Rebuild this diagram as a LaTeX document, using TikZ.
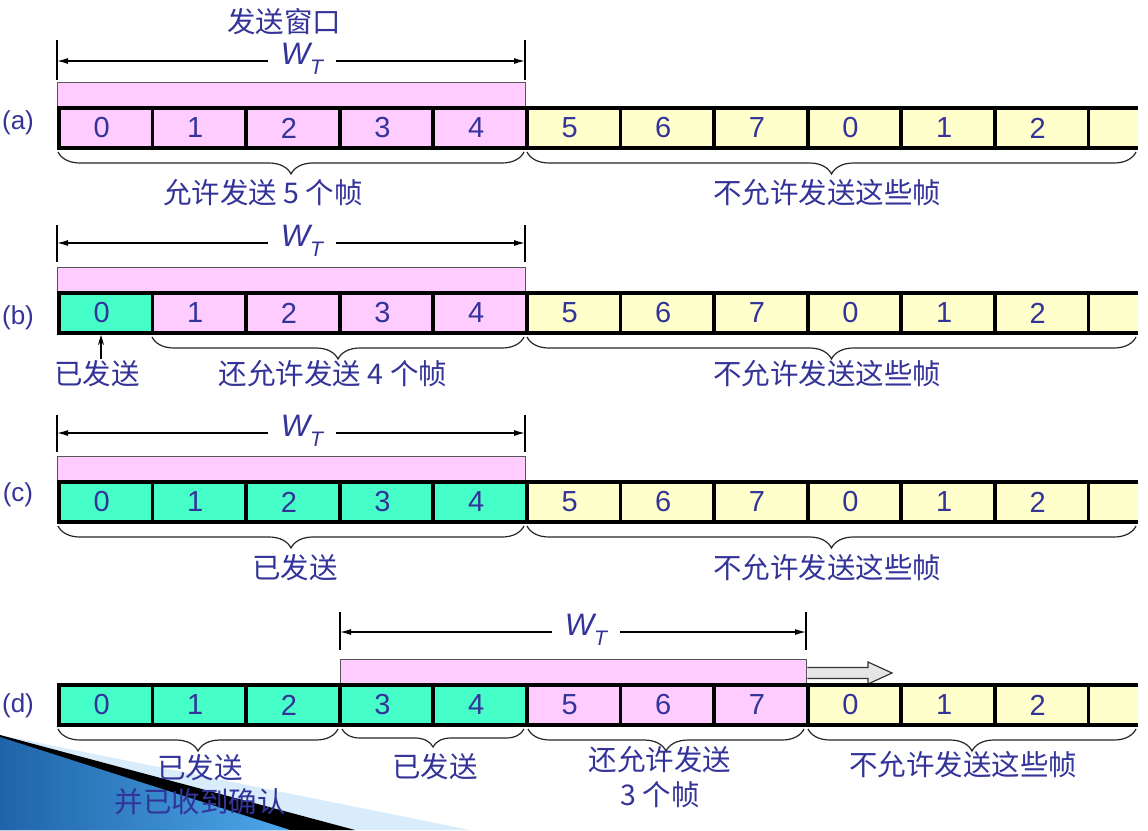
\documentclass[tikz,border=0pt]{standalone}
\usepackage{fontspec}
\setmainfont{Liberation Sans}
\newfontfamily\cjk{Noto Sans CJK SC}
\usetikzlibrary{decorations.pathreplacing,arrows.meta}
\definecolor{txt}{HTML}{333399}
\definecolor{pk}{HTML}{FFCCFF}
\definecolor{ye}{HTML}{FFFFCC}
\definecolor{gr}{HTML}{46FFC8}
\definecolor{barline}{HTML}{555555}
\definecolor{lblue}{HTML}{D8ECFB}
\definecolor{dblue}{HTML}{1F64A8}
\definecolor{mblue}{HTML}{4CA8EA}
\tikzset{
  cell/.style={draw=black, line width=3.8pt, minimum width=93.6pt, minimum height=40pt,
    inner sep=0pt, anchor=west, text=txt, font=\fontsize{29}{30}\selectfont},
  cellfill/.style={inner sep=0pt, outer sep=0pt, minimum height=40pt, anchor=west},
  stripline/.style={draw=black, line width=3.8pt},
  winbar/.style={draw=barline, line width=1.4pt, fill=pk, minimum height=25pt,
    inner sep=0pt, anchor=south west},
  tickline/.style={draw=black, line width=1.1pt},
  dimline/.style={draw=black, line width=1.3pt, {Latex[length=11pt,width=6pt]}-{Latex[length=11pt,width=6pt]}},
  wt/.style={fill=white, text=txt, inner xsep=13pt, inner ysep=2pt, font=\fontsize{31}{32}\selectfont\itshape},
  brc/.style={draw=black!85, line width=1.2pt, decorate, decoration={brace, mirror, amplitude=22pt}},
  lbl/.style={text=txt, inner sep=0pt, font=\cjk\fontsize{28.5}{30}\selectfont},
  rowlbl/.style={text=txt, inner sep=0pt, font=\fontsize{26}{28}\selectfont},
}
\newcommand{\WT}{W\raisebox{-0.32em}{\fontsize{21}{22}\selectfont T}}
\newcommand{\dg}[1]{#1\hspace*{8pt}}
\begin{document}
\begin{tikzpicture}[x=1pt,y=-1pt]
\useasboundingbox (0,0) rectangle (1148,830);
% background ornament
\fill[lblue] (0,735) -- (470,830) -- (0,830) -- cycle;
\fill[black] (0,735) -- (355,830) -- (0,830) -- cycle;
\shade[left color=dblue, right color=mblue] (0,737) -- (290,830) -- (0,830) -- cycle;

% ---------------- (a)
\node[lbl] (ta) at (284,22) {发送窗口};
\coordinate (aLt) at (57,40); \coordinate (aLb) at (57,80);
\coordinate (aRt) at (525,40); \coordinate (aRb) at (525,80);
\coordinate (aL) at (57,61); \coordinate (aR) at (525,61);
\draw[tickline] (aLt) -- (aLb); \draw[tickline] (aRt) -- (aRb);
\draw[dimline] (aL) -- (aR);
\node[wt] (wa) at (302,59) {\WT};
\node[winbar, minimum width=468pt] (bara) at (57,108) {};
\node[cellfill, fill=ye, minimum width=51pt] (a11) at (1086.6,128) {};
\foreach[count=\i from 0] \t/\c in {0/pk,1/pk,2/pk,3/pk,4/pk,5/ye,6/ye,7/ye,0/ye,1/ye,2/ye}
  \node[cell, fill=\c] (a\i) at ({57+93.6*\i},128) {\dg{\t}};
\draw[stripline] (a11.north west) -- (a11.north east) (a11.south west) -- (a11.south east);
\node[rowlbl] (ra) at (18,123) {(a)};
\coordinate (ab1) at (58,152); \coordinate (ab2) at (524,152);
\coordinate (ab3) at (527,152); \coordinate (ab4) at (1136,152);
\draw[brc] (ab1) -- (ab2);
\draw[brc] (ab3) -- (ab4);
\node[lbl] (la1) at (263,193) {允许发送 5 个帧};
\node[lbl] (la2) at (827,193) {不允许发送这些帧};

% ---------------- (b)
\coordinate (bLt) at (57,225); \coordinate (bLb) at (57,262);
\coordinate (bRt) at (525,225); \coordinate (bRb) at (525,262);
\coordinate (bL) at (57,243); \coordinate (bR) at (525,243);
\draw[tickline] (bLt) -- (bLb); \draw[tickline] (bRt) -- (bRb);
\draw[dimline] (bL) -- (bR);
\node[wt] (wb) at (302,241) {\WT};
\node[winbar, minimum width=468pt] (barb) at (57,293) {};
\node[cellfill, fill=ye, minimum width=51pt] (b11) at (1086.6,313) {};
\foreach[count=\i from 0] \t/\c in {0/gr,1/pk,2/pk,3/pk,4/pk,5/ye,6/ye,7/ye,0/ye,1/ye,2/ye}
  \node[cell, fill=\c] (b\i) at ({57+93.6*\i},313) {\dg{\t}};
\draw[stripline] (b11.north west) -- (b11.north east) (b11.south west) -- (b11.south east);
\node[rowlbl] (rb) at (18,318) {(b)};
\coordinate (bs) at (101,359);
\coordinate (bt) at (101,335);
\draw[line width=1.2pt, -{Stealth[length=10pt,width=6pt]}] (bs) -- (bt);
\coordinate (bb1) at (152,337); \coordinate (bb2) at (524,337);
\coordinate (bb3) at (527,337); \coordinate (bb4) at (1136,337);
\draw[brc] (bb1) -- (bb2);
\draw[brc] (bb3) -- (bb4);
\node[lbl] (lb0) at (97,374) {已发送};
\node[lbl] (lb1) at (333,374) {还允许发送 4 个帧};
\node[lbl] (lb2) at (827,374) {不允许发送这些帧};

% ---------------- (c)
\coordinate (cLt) at (57,415); \coordinate (cLb) at (57,452);
\coordinate (cRt) at (525,415); \coordinate (cRb) at (525,452);
\coordinate (cL) at (57,433); \coordinate (cR) at (525,433);
\draw[tickline] (cLt) -- (cLb); \draw[tickline] (cRt) -- (cRb);
\draw[dimline] (cL) -- (cR);
\node[wt] (wc) at (302,431) {\WT};
\node[winbar, minimum width=468pt] (barc) at (57,482) {};
\node[cellfill, fill=ye, minimum width=51pt] (c11) at (1086.6,502) {};
\foreach[count=\i from 0] \t/\c in {0/gr,1/gr,2/gr,3/gr,4/gr,5/ye,6/ye,7/ye,0/ye,1/ye,2/ye}
  \node[cell, fill=\c] (c\i) at ({57+93.6*\i},502) {\dg{\t}};
\draw[stripline] (c11.north west) -- (c11.north east) (c11.south west) -- (c11.south east);
\node[rowlbl] (rc) at (18,495) {(c)};
\coordinate (cb1) at (58,526); \coordinate (cb2) at (524,526);
\coordinate (cb3) at (527,526); \coordinate (cb4) at (1136,526);
\draw[brc] (cb1) -- (cb2);
\draw[brc] (cb3) -- (cb4);
\node[lbl] (lc1) at (295,568) {已发送};
\node[lbl] (lc2) at (827,568) {不允许发送这些帧};

% ---------------- (d)
\coordinate (dLt) at (340,612); \coordinate (dLb) at (340,650);
\coordinate (dRt) at (806,612); \coordinate (dRb) at (806,650);
\coordinate (dL) at (340,632); \coordinate (dR) at (806,632);
\draw[tickline] (dLt) -- (dLb); \draw[tickline] (dRt) -- (dRb);
\draw[dimline] (dL) -- (dR);
\node[wt] (wd) at (586,630) {\WT};
\node[winbar, minimum width=466pt] (bard) at (340,685) {};
\filldraw[fill=black!10, draw=black!80, line width=1.2pt]
  (bard.east |- 0,667.5) -- (868,667.5) -- (868,662) -- (892,673) -- (868,684) -- (868,678.5) -- (bard.east |- 0,678.5);
\node[cellfill, fill=ye, minimum width=51pt] (d11) at (1086.6,705) {};
\foreach[count=\i from 0] \t/\c in {0/gr,1/gr,2/gr,3/gr,4/gr,5/pk,6/pk,7/pk,0/ye,1/ye,2/ye}
  \node[cell, fill=\c] (d\i) at ({57+93.6*\i},705) {\dg{\t}};
\draw[stripline] (d11.north west) -- (d11.north east) (d11.south west) -- (d11.south east);
\node[rowlbl] (rd) at (18,706) {(d)};
\coordinate (db1) at (58,729); \coordinate (db2) at (338,729);
\coordinate (db3) at (342,729); \coordinate (db4) at (524,729);
\coordinate (db5) at (528,729); \coordinate (db6) at (804,729);
\coordinate (db7) at (808,729); \coordinate (db8) at (1136,729);
\draw[brc] (db1) -- (db2);
\draw[brc, decoration={brace, mirror, amplitude=18pt}] (db3) -- (db4);
\draw[brc] (db5) -- (db6);
\draw[brc] (db7) -- (db8);
\node[lbl] (ld1) at (200,768) {已发送};
\node[lbl] (ld1b) at (200,802) {并已收到确认};
\node[lbl] (ld2) at (435,767) {已发送};
\node[lbl] (ld3) at (660,760) {还允许发送};
\node[lbl] (ld3b) at (660,795) {3 个帧};
\node[lbl] (ld4) at (963,765) {不允许发送这些帧};
\end{tikzpicture}
\end{document}
